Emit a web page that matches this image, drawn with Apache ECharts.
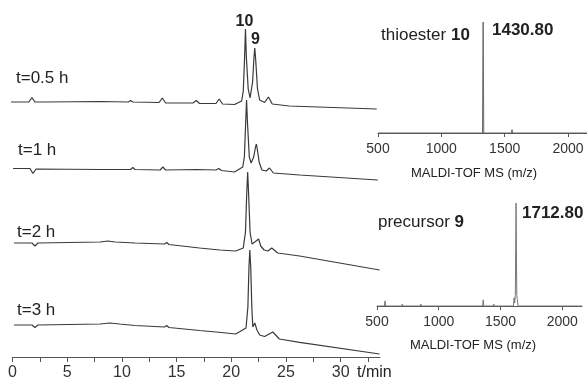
<!DOCTYPE html>
<html>
<head>
<meta charset="utf-8">
<script src="https://cdn.jsdelivr.net/npm/echarts@6/dist/echarts.min.js"></script>
<style>
  html, body { margin: 0; padding: 0; background: #fff; }
  #main { width: 587px; height: 383px; }
</style>
</head>
<body>
<div id="main"></div>
<script>
// retention time axis (min)
const retentionTicks = [0, 2.5, 5, 7.5, 10, 12.5, 15, 17.5, 20, 22.5, 25, 27.5, 30, 32.5];
const retentionLabels = [0, 5, 10, 15, 20, 25, 30];
const traceNames = ["t=0.5 h", "t=1 h", "t=2 h", "t=3 h"];

// HPLC traces [time, stacked signal]
const trace05 = [[-0.2, 255], [1.5, 255], [1.78, 259.5], [2.05, 255], [3, 255], [8, 255.5], [10.6, 255], [10.8, 256.5], [11.0, 255],
  [13.4, 254.5], [13.7, 259], [14.0, 254], [16.5, 254], [16.8, 256.5], [17.1, 253.5], [18.6, 253.5], [18.9, 258], [19.2, 253],
  [20.3, 252.5], [20.95, 256], [21.1, 266], [21.22, 300], [21.3, 328], [21.38, 300], [21.55, 268], [21.72, 259], [21.95, 275],
  [22.08, 300], [22.15, 309], [22.23, 298], [22.4, 268], [22.6, 257], [23.05, 254.5], [23.4, 260], [23.75, 253], [25.3, 251],
  [33.3, 248]];
const trace1 = [[0.05, 188.5], [1.6, 188.5], [1.87, 183.5], [2.15, 188], [8, 187.5], [10.8, 187.5], [11.0, 189.5], [11.2, 187.5],
  [13.5, 187], [13.75, 190], [14.0, 187], [16.85, 187.5], [18.6, 187], [18.86, 188.5], [19.1, 186.5], [20.3, 185], [21.05, 190],
  [21.2, 200], [21.32, 235], [21.4, 257], [21.48, 235], [21.65, 200], [21.82, 194], [22.05, 200], [22.22, 210], [22.3, 213],
  [22.38, 208], [22.55, 195], [22.8, 187], [23.2, 186], [23.5, 189], [23.85, 184], [26.25, 182], [33.4, 177]];
const trace2 = [[0.14, 114], [1.78, 114], [2.05, 111], [2.33, 114], [8, 115], [8.72, 116], [9.4, 115], [11.2, 114], [13.9, 113],
  [14.1, 114.5], [14.3, 112.5], [17.1, 109], [18.95, 107], [20.4, 106], [21.1, 109], [21.3, 125], [21.42, 165], [21.5, 185],
  [21.58, 165], [21.72, 125], [21.9, 113], [22.15, 115], [22.3, 113], [22.5, 118], [22.7, 111], [23.0, 107], [23.35, 106],
  [23.7, 109], [24.25, 104], [26.25, 101], [33.56, 87]];
const trace3 = [[0.14, 32], [1.78, 32], [2.05, 29.5], [2.33, 32], [8, 33], [8.9, 34], [9.8, 33], [11.2, 31.5], [13.9, 30],
  [14.1, 31.5], [14.3, 29.5], [17.1, 26.5], [19.1, 24.5], [20.4, 23], [20.8, 25.5], [21.35, 29], [21.52, 50], [21.62, 90],
  [21.7, 107], [21.78, 90], [21.88, 50], [21.97, 30], [22.15, 34], [22.35, 27], [22.6, 22], [23.05, 20.5], [23.8, 25],
  [24.4, 18], [26.25, 14.7], [33.56, 3]];

// MALDI-TOF spectra [m/z, relative intensity]
const msTicks = [500, 1000, 1500, 2000];
const thioesterSpectrum = [[500, 0], [1325, 0], [1330, 100], [1335, 0], [1553, 0], [1558, 3], [1563, 0], [2150, 0]];
const precursorSpectrum = [[500, 0], [560, 0], [565, 5], [570, 0], [700, 0], [705, 2], [710, 0], [850, 0], [855, 2], [860, 0],
  [1355, 0], [1360, 6], [1365, 0], [1440, 0], [1445, 2], [1450, 0], [1605, 0], [1610, 8], [1615, 3], [1620, 10], [1626, 100],
  [1632, 10], [1637, 6], [1642, 0], [2160, 0]];

const font = "Liberation Sans";
const chart = echarts.init(document.getElementById("main"));

const msAxis = (min, max, idx) => ({
  type: "value", gridIndex: idx, min: min, max: max,
  axisLine: { lineStyle: { color: "#555", width: 1 } },
  axisTick: { length: 4, lineStyle: { color: "#555" }, customValues: msTicks },
  axisLabel: { customValues: msTicks, formatter: (v) => String(v), margin: 9, fontSize: 14, fontFamily: font, color: "#333" },
  splitLine: { show: false }
});
const hiddenY = (idx, max) => ({ type: "value", gridIndex: idx, min: 0, max: max, show: false });

const txt = (x, y, text, size, bold, align) => ({
  type: "text", x: x, y: y, silent: true,
  style: { text: text, font: (bold ? "bold " : "") + size + "px " + font, fill: "#222",
    textAlign: align || "left", textVerticalAlign: "middle" }
});

chart.setOption({
  animation: false,
  grid: [
    { left: 12.5, right: 207, top: 0, bottom: 26 },
    { left: 378, right: 0, top: 22, bottom: 250 },
    { left: 377, right: 5, top: 203, bottom: 77 }
  ],
  xAxis: [
    {
      type: "value", gridIndex: 0, min: 0, max: 33.6,
      axisLine: { lineStyle: { color: "#555", width: 1 } },
      axisTick: { length: 5, lineStyle: { color: "#555" }, customValues: retentionTicks },
      axisLabel: { customValues: retentionLabels, margin: 8, fontSize: 16, fontFamily: font, color: "#333" },
      splitLine: { show: false }
    },
    msAxis(500, 2150, 1),
    msAxis(500, 2160, 2)
  ],
  yAxis: [hiddenY(0, 357), hiddenY(1, 100), hiddenY(2, 100)],
  series: [
    ...[trace05, trace1, trace2, trace3].map((d, i) => ({
      name: traceNames[i], type: "line", xAxisIndex: 0, yAxisIndex: 0, data: d,
      showSymbol: false, clip: false, lineStyle: { color: "#3a3a3a", width: 1.2 }
    })),
    { type: "line", xAxisIndex: 1, yAxisIndex: 1, data: thioesterSpectrum, showSymbol: false,
      lineStyle: { color: "#666", width: 1 } },
    { type: "line", xAxisIndex: 2, yAxisIndex: 2, data: precursorSpectrum, showSymbol: false,
      lineStyle: { color: "#777", width: 1 } }
  ],
  graphic: [
    txt(16, 78, traceNames[0], 17),
    txt(18, 150, traceNames[1], 17),
    txt(17, 232, traceNames[2], 17),
    txt(17, 310, traceNames[3], 17),
    txt(244.5, 22, "10", 16, true, "center"),
    txt(255.5, 40, "9", 16, true, "center"),
    txt(357, 373, "t/min", 16),
    {
      type: "text", x: 381, y: 35, silent: true,
      style: { text: "{n|thioester }{b|10}", fill: "#222", textVerticalAlign: "middle",
        rich: { n: { font: "17px " + font, fill: "#222" }, b: { font: "bold 17px " + font, fill: "#222" } } }
    },
    txt(492, 30, "1430.80", 17, true),
    {
      type: "text", x: 378, y: 222, silent: true,
      style: { text: "{n|precursor }{b|9}", fill: "#222", textVerticalAlign: "middle",
        rich: { n: { font: "17px " + font, fill: "#222" }, b: { font: "bold 17px " + font, fill: "#222" } } }
    },
    txt(522, 213, "1712.80", 17, true),
    txt(474, 173, "MALDI-TOF MS (m/z)", 13, false, "center"),
    txt(473, 345, "MALDI-TOF MS (m/z)", 13, false, "center")
  ]
});

window.addEventListener("resize", () => chart.resize());
</script>
</body>
</html>
